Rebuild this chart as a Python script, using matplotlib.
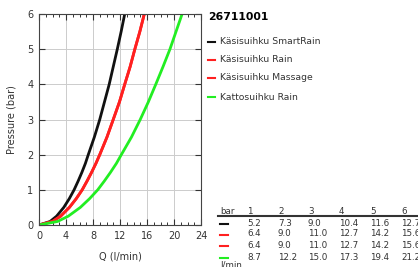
import matplotlib
matplotlib.use("Agg")
import matplotlib.pyplot as plt
from matplotlib.ticker import MultipleLocator

title = "26711001"
series_names = ["Käsisuihku SmartRain", "Käsisuihku Rain", "Käsisuihku Massage", "Kattosuihku Rain"]
series_colors = ["#111111", "#ff2020", "#ff2020", "#22ee22"]

# table values: flow (l/min) at pressure 1..6 bar
table_bar = [1, 2, 3, 4, 5, 6]
table_q = [
    [5.2, 7.3, 9.0, 10.4, 11.6, 12.7],
    [6.4, 9.0, 11.0, 12.7, 14.2, 15.6],
    [6.4, 9.0, 11.0, 12.7, 14.2, 15.6],
    [8.7, 12.2, 15.0, 17.3, 19.4, 21.2],
]

# curve values: pressure levels and flow per series
curve_p = [0, 0.1, 0.25, 0.5, 0.75, 1, 1.25, 1.5, 1.75, 2, 2.5, 3, 3.5, 4, 4.5, 5, 5.5, 6]
curve_q = [
    [0, 1.64, 2.6, 3.67, 4.49, 5.2, 5.8, 6.36, 6.87, 7.3, 8.2, 9.0, 9.7, 10.4, 11.0, 11.6, 12.17, 12.7],
    [0, 2.0, 3.2, 4.5, 5.52, 6.4, 7.12, 7.8, 8.43, 9.0, 10.07, 11.0, 11.92, 12.7, 13.5, 14.2, 14.94, 15.6],
    [0, 2.0, 3.2, 4.5, 5.52, 6.4, 7.12, 7.8, 8.43, 9.0, 10.07, 11.0, 11.92, 12.7, 13.5, 14.2, 14.94, 15.6],
    [0, 2.74, 4.33, 6.12, 7.5, 8.7, 9.68, 10.6, 11.46, 12.2, 13.7, 15.0, 16.2, 17.3, 18.37, 19.4, 20.3, 21.2],
]

W, H = 418, 267
fig = plt.figure(figsize=(W / 100, H / 100), dpi=100)
ax = fig.add_axes([39 / W, 1 - 225 / H, (201 - 39) / W, (225 - 14) / H])

txt = "#333333"
for name, col, q in zip(series_names, series_colors, curve_q):
    ax.plot(q, curve_p, color=col, lw=2.0, solid_capstyle="butt", solid_joinstyle="round")

ax.set_xlim(0, 24)
ax.set_ylim(0, 6)
ax.xaxis.set_major_locator(MultipleLocator(4))
ax.xaxis.set_minor_locator(MultipleLocator(1))
ax.yaxis.set_major_locator(MultipleLocator(1))
ax.grid(True, which="major", color="#cccccc", lw=0.7)
ax.tick_params(which="both", direction="in", top=True, right=True, labelsize=7,
               colors=txt, pad=4)
ax.tick_params(which="major", length=4, width=0.8)
ax.tick_params(which="minor", length=2.5, width=0.7)
for s in ax.spines.values():
    s.set_color("#444444")
    s.set_linewidth(0.8)
ax.set_xlabel("Q (l/min)", fontsize=7, color=txt, labelpad=8)
ax.set_ylabel("Pressure (bar)", fontsize=7, color=txt, labelpad=8)

# title and legend
fig.text(208 / W, 1 - 17 / H, title, fontsize=7.8, fontweight="bold", color="black", va="center")
leg_y = [42, 60, 78, 97]
for name, col, y in zip(series_names, series_colors, leg_y):
    fig.add_artist(plt.Line2D([208 / W, 215 / W], [1 - y / H] * 2, color=col, lw=1.5))
    fig.text(220 / W, 1 - y / H, name, fontsize=6.7, color=txt, va="center")

# table
col_x = [247, 278, 308, 339, 370, 401]
fs = 6.3
fig.text(220 / W, 1 - 212 / H, "bar", fontsize=fs, color=txt, va="center")
for x, b in zip(col_x, table_bar):
    fig.text(x / W, 1 - 211 / H, str(b), fontsize=fs, color=txt, va="center")
fig.add_artist(plt.Line2D([218 / W, 1.0], [1 - 216 / H] * 2, color="#333333", lw=1.5))
row_y = [223, 234, 245, 257]
for col, vals, y in zip(series_colors, table_q, row_y):
    fig.add_artist(plt.Line2D([220 / W, 228 / W], [1 - (y + 1) / H] * 2, color=col, lw=1.5))
    for x, v in zip(col_x, vals):
        fig.text(x / W, 1 - y / H, f"{v:.1f}", fontsize=fs, color=txt, va="center")
fig.text(220 / W, 1 - 265 / H, "l/min", fontsize=fs, color=txt, va="center")

fig.savefig("out.png", dpi=100)
